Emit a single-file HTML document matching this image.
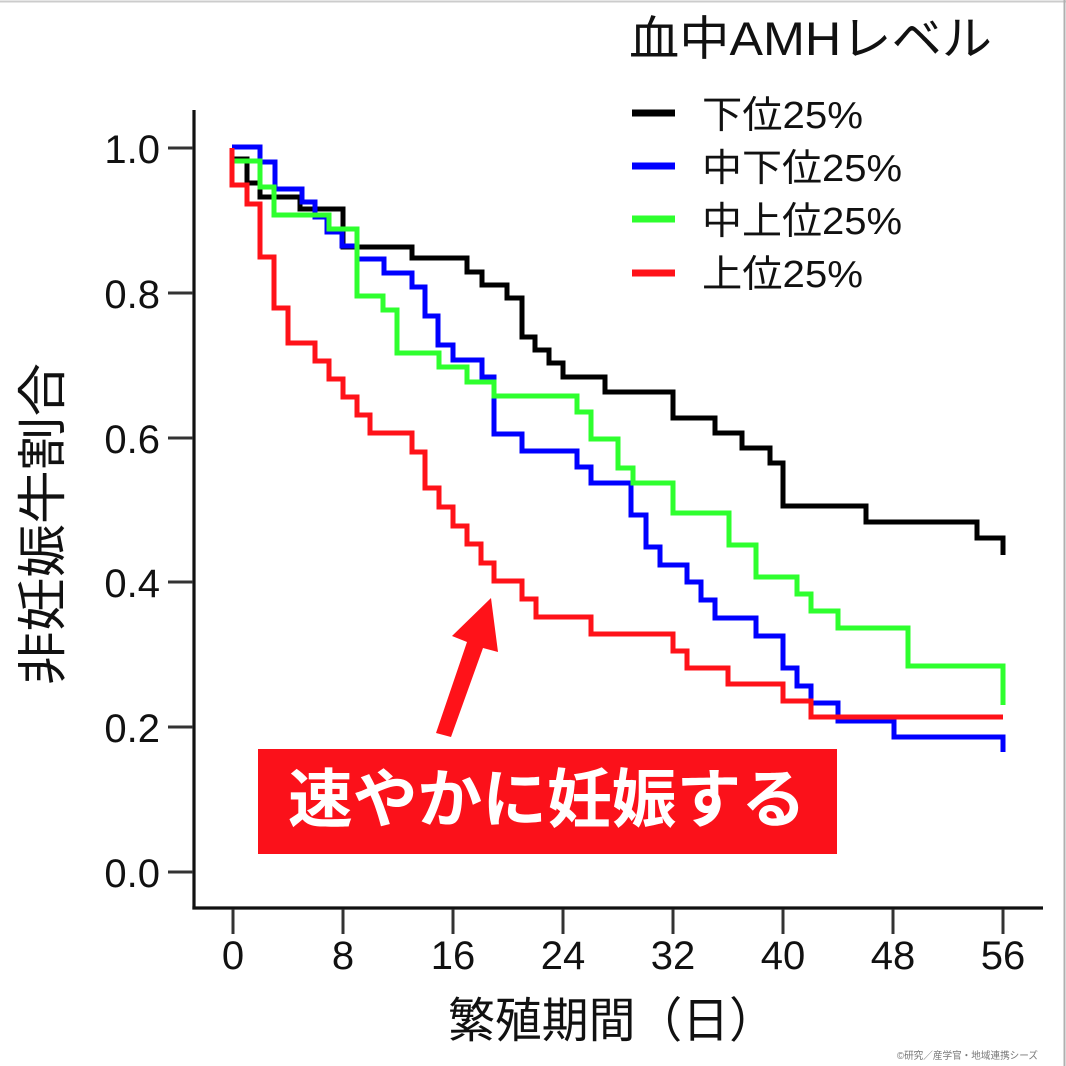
<!DOCTYPE html>
<html>
<head>
<meta charset="utf-8">
<style>
  html, body { margin: 0; padding: 0; background: #ffffff; }
  body { width: 1066px; height: 1066px; overflow: hidden; }
  svg { display: block; }
  text { font-family: "Liberation Sans", "Noto Sans CJK JP", sans-serif; }
</style>
</head>
<body>
<svg width="1066" height="1066" viewBox="0 0 1066 1066" xmlns="http://www.w3.org/2000/svg">
  <rect x="0" y="0" width="1066" height="1066" fill="#ffffff"/>
  <!-- frame borders -->
  <line x1="0" y1="1.5" x2="1066" y2="1.5" stroke="#cccccc" stroke-width="2"/>
  <line x1="1064.5" y1="0" x2="1064.5" y2="1066" stroke="#b0b0b0" stroke-width="2"/>

  <!-- axes -->
  <line x1="194" y1="110" x2="194" y2="909.5" stroke="#111" stroke-width="3.2"/>
  <line x1="192.4" y1="908" x2="1043" y2="908" stroke="#111" stroke-width="3.2"/>

  <!-- y ticks -->
  <g stroke="#333" stroke-width="3">
    <line x1="168" y1="148" x2="193" y2="148"/>
    <line x1="168" y1="293" x2="193" y2="293"/>
    <line x1="168" y1="438" x2="193" y2="438"/>
    <line x1="168" y1="582" x2="193" y2="582"/>
    <line x1="168" y1="727" x2="193" y2="727"/>
    <line x1="168" y1="872" x2="193" y2="872"/>
  </g>
  <g font-size="40" fill="#111" text-anchor="end">
    <text x="160" y="163">1.0</text>
    <text x="160" y="308">0.8</text>
    <text x="160" y="453">0.6</text>
    <text x="160" y="597">0.4</text>
    <text x="160" y="742">0.2</text>
    <text x="160" y="887">0.0</text>
  </g>

  <!-- x ticks -->
  <g stroke="#333" stroke-width="3">
    <line x1="233" y1="909" x2="233" y2="934"/>
    <line x1="343" y1="909" x2="343" y2="934"/>
    <line x1="453" y1="909" x2="453" y2="934"/>
    <line x1="563" y1="909" x2="563" y2="934"/>
    <line x1="673" y1="909" x2="673" y2="934"/>
    <line x1="783" y1="909" x2="783" y2="934"/>
    <line x1="893" y1="909" x2="893" y2="934"/>
    <line x1="1003" y1="909" x2="1003" y2="934"/>
  </g>
  <g font-size="40" fill="#111" text-anchor="middle">
    <text x="233" y="969">0</text>
    <text x="343" y="969">8</text>
    <text x="453" y="969">16</text>
    <text x="563" y="969">24</text>
    <text x="673" y="969">32</text>
    <text x="783" y="969">40</text>
    <text x="893" y="969">48</text>
    <text x="1003" y="969">56</text>
  </g>

  <!-- axis titles -->
  <text x="448" y="1037" font-size="48" fill="#111" textLength="328" lengthAdjust="spacingAndGlyphs">繁殖期間（日）</text>
  <text transform="translate(43,524) rotate(-90)" font-size="50" fill="#111" text-anchor="middle" dominant-baseline="central" textLength="322" lengthAdjust="spacingAndGlyphs">非妊娠牛割合</text>

  <!-- curves -->
  <g fill="none" stroke-width="5" stroke-linejoin="miter" stroke-linecap="butt">
    <path stroke="#000000" d="M232,148 V159 H247 V183 H260 V197 H300 V209 H343 V247 H412 V258 H467 V272 H482 V285 H507 V298 H522 V337 H535 V350 H549 V363 H563 V377 H605 V392 H673 V418 H715 V433 H742 V448 H770 V463 H783 V506 H866 V522 H977 V538 H1003 V555"/>
    <path stroke="#0000ff" d="M232,147 H260 V162 H275 V189 H302 V202 H315 V217 H327 V232 H342 V246 H357 V259 H384 V273 H412 V287 H425 V316 H438 V345 H453 V360 H482 V377 H494 V434 H522 V451 H577 V467 H591 V483 H631 V515 H646 V547 H660 V565 H687 V582 H701 V600 H715 V618 H756 V636 H783 V668 H797 V686 H811 V703 H838 V721 H894 V737 H1003 V752"/>
    <path stroke="#2eff2e" d="M232,148 V161 H260 V187 H274 V215 H329 V229 H357 V296 H383 V310 H397 V353 H439 V367 H467 V382 H494 V396 H577 V412 H591 V439 H618 V468 H633 V483 H673 V513 H729 V545 H756 V577 H797 V594 H811 V611 H838 V628 H908 V666 H1003 V705"/>
    <path stroke="#ff1219" d="M232,148 V185 H247 V204 H260 V257 H274 V308 H288 V343 H315 V361 H329 V379 H343 V397 H357 V415 H370 V433 H412 V452 H425 V488 H439 V507 H453 V526 H467 V544 H481 V563 H494 V581 H522 V599 H536 V617 H591 V634 H673 V651 H687 V668 H728 V684 H783 V701 H811 V717 H1003"/>
  </g>

  <!-- legend -->
  <text x="629" y="55" font-size="47" fill="#111" textLength="363" lengthAdjust="spacingAndGlyphs">血中AMHレベル</text>
  <g stroke-width="7">
    <line x1="632" y1="113" x2="675" y2="113" stroke="#000000"/>
    <line x1="632" y1="166" x2="675" y2="166" stroke="#0000ff"/>
    <line x1="632" y1="219" x2="675" y2="219" stroke="#2eff2e"/>
    <line x1="632" y1="273" x2="675" y2="273" stroke="#ff1219"/>
  </g>
  <g font-size="38" fill="#111">
    <text x="702" y="128" textLength="161" lengthAdjust="spacingAndGlyphs">下位25%</text>
    <text x="702" y="181" textLength="200" lengthAdjust="spacingAndGlyphs">中下位25%</text>
    <text x="702" y="234" textLength="200" lengthAdjust="spacingAndGlyphs">中上位25%</text>
    <text x="702" y="287" textLength="161" lengthAdjust="spacingAndGlyphs">上位25%</text>
  </g>

  <!-- annotation arrow -->
  <polygon fill="#ff1219" points="491,598 498,652 483,648 451,737 436,733 467,642 452,636"/>

  <!-- annotation box -->
  <rect x="258" y="749" width="579" height="105" fill="#fb111a"/>
  <text x="547" y="800" font-size="64" font-weight="bold" fill="#ffffff" text-anchor="middle" dominant-baseline="central" textLength="518" lengthAdjust="spacingAndGlyphs">速やかに妊娠する</text>

  <!-- copyright -->
  <text x="897" y="1059" font-size="10" fill="#777" textLength="141" lengthAdjust="spacingAndGlyphs">©研究／産学官・地域連携シーズ</text>
</svg>
</body>
</html>
